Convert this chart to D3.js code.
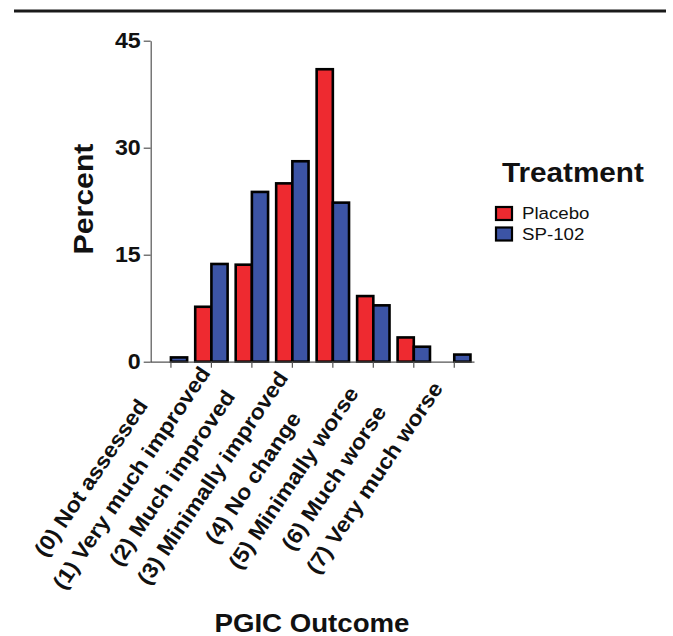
<!DOCTYPE html>
<html><head><meta charset="utf-8">
<script src="https://cdn.jsdelivr.net/npm/d3@7"></script>
<style>body{margin:0;background:#fff;} text{font-family:Arial,"Liberation Sans",sans-serif;}</style>
</head><body>
<svg id="c" width="673" height="636"></svg>
<script>
const categories = ["(0) Not assessed","(1) Very much improved","(2) Much improved","(3) Minimally improved","(4) No change","(5) Minimally worse","(6) Much worse","(7) Very much worse"];
const seriesNames = ["Placebo","SP-102"];
const placebo = [0, 7.7, 13.6, 25.0, 41.0, 9.2, 3.4, 0];
const sp102 = [0.6, 13.7, 23.8, 28.1, 22.3, 7.9, 2.1, 1.0];
const yTicks = [0, 15, 30, 45];
const colors = ["#ee2a30", "#3c54a5"];

(function(){
const SX = 1.08; // horizontal stretch of the original typeface
const svg = d3.select("#c");
svg.append("line").attr("x1",14).attr("x2",666).attr("y1",11).attr("y2",11)
  .attr("stroke","#1a1a1a").attr("stroke-width",3);

const pLeft = 150.7, pRight = 474.5, pTop = 40.7, pBottom = 361.7;
const x0 = d3.scaleBand().domain(categories).range([pLeft, pRight]).paddingInner(0.2).paddingOuter(0.1);
const x1 = d3.scaleBand().domain(seriesNames).range([0, x0.bandwidth()]);
const y = d3.scaleLinear().domain([0,45]).range([pBottom, pTop]);

const data = categories.map((c,i)=>({cat:c, vals:[placebo[i], sp102[i]]}));

const g = svg.append("g");
data.forEach(d=>{
  d.vals.forEach((v,j)=>{
    if (v <= 0) return;
    g.append("rect")
      .attr("x", x0(d.cat) + x1(seriesNames[j]))
      .attr("y", y(v))
      .attr("width", x1.bandwidth())
      .attr("height", y(0) - y(v))
      .attr("fill", colors[j]).attr("stroke","#000").attr("stroke-width",2.6);
  });
});

const yAxis = svg.append("g").attr("transform",`translate(${pLeft},0)`)
  .call(d3.axisLeft(y).tickValues(yTicks).tickSize(7).tickPadding(3).tickSizeOuter(0));
yAxis.select(".domain").attr("stroke","#555").attr("stroke-width",1.2);
yAxis.selectAll(".tick line").attr("stroke","#555").attr("stroke-width",1.2);
yAxis.selectAll(".tick text").attr("font-size",21.5).attr("font-weight","bold").attr("fill","#111")
  .attr("font-family","Arial, 'Liberation Sans', sans-serif")
  .attr("x",0).attr("transform",`translate(-10,0) scale(${SX},1)`);

const xAxis = svg.append("g").attr("transform",`translate(0,${pBottom})`)
  .call(d3.axisBottom(x0).tickSize(6).tickSizeOuter(0));
xAxis.select(".domain").attr("stroke","#555").attr("stroke-width",1.2)
  .attr("d", `M${pLeft},0.5H${pRight}`);
xAxis.selectAll(".tick line").attr("stroke","#555").attr("stroke-width",1.2);
xAxis.selectAll(".tick text")
  .attr("font-size",21.5).attr("font-weight","bold").attr("fill","#111")
  .attr("font-family","Arial, 'Liberation Sans', sans-serif")
  .attr("text-anchor","middle")
  .attr("y",0).attr("dy","0.35em")
  .attr("transform",`translate(-80,116) rotate(-56) scale(${SX},1)`);

svg.append("text").attr("transform",`translate(93,199) rotate(-90) scale(${SX},1)`)
  .attr("text-anchor","middle").attr("font-size",28).attr("font-weight","bold").attr("fill","#111")
  .text("Percent");

svg.append("text").attr("transform",`translate(312,631.5) scale(${SX},1)`)
  .attr("text-anchor","middle").attr("font-size",25.6).attr("font-weight","bold").attr("fill","#111")
  .text("PGIC Outcome");

svg.append("text").attr("transform",`translate(502,182) scale(${SX},1)`)
  .attr("font-size",27.5).attr("font-weight","bold").attr("fill","#111")
  .text("Treatment");
seriesNames.forEach((s,j)=>{
  const ly = 207 + j*20.5;
  svg.append("rect").attr("x",496).attr("y",ly).attr("width",16).attr("height",13)
    .attr("fill",colors[j]).attr("stroke","#000").attr("stroke-width",2.2);
  svg.append("text").attr("transform",`translate(522,${ly+12}) scale(${SX},1)`)
    .attr("font-size",17.3).attr("fill","#111").text(s);
});
})();
</script>
</body></html>
